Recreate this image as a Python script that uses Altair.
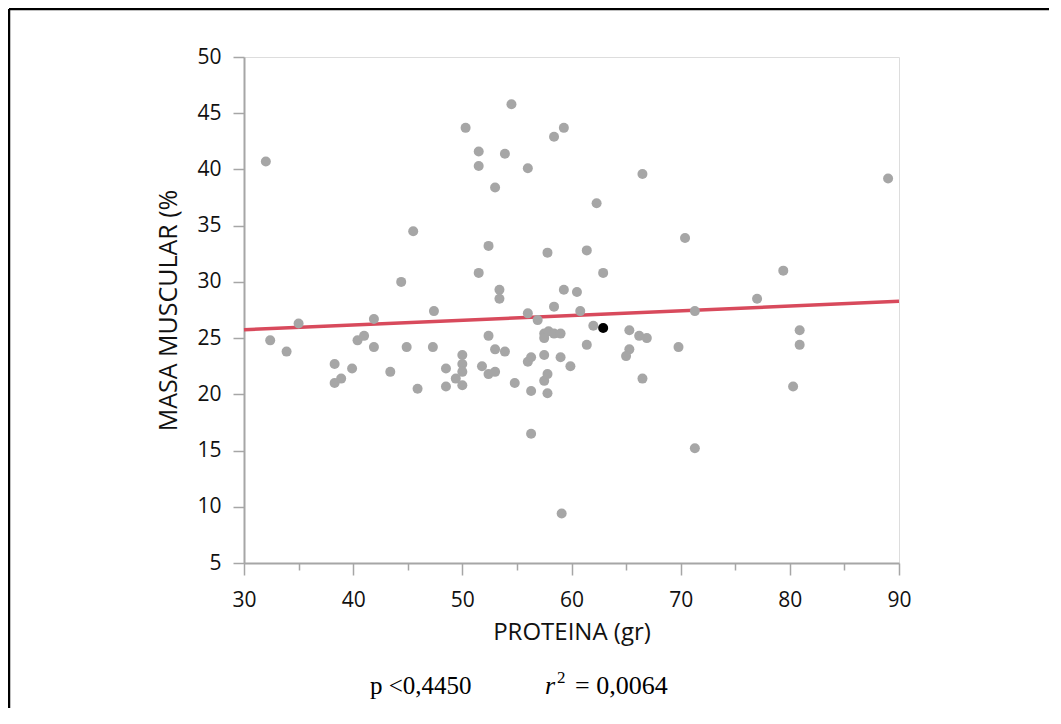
import altair as alt
import pandas as pd

# --- data ---
proteina = [32.0, 54.5, 50.3, 59.3, 58.4, 51.5, 53.9, 51.5, 56.0, 53.0,
            45.5, 52.4, 57.8, 44.4, 51.5, 53.4, 53.4, 59.3, 58.4, 47.4,
            56.0, 66.5, 89.0, 62.3, 70.4, 61.4, 62.9, 79.4, 60.5, 77.0,
            60.8, 71.3, 62.0, 65.3, 66.2, 66.9, 80.9, 80.9, 61.4, 59.9,
            65.3, 65.0, 69.8, 66.5, 80.3, 71.3, 59.1, 32.4, 33.9, 35.0,
            38.3, 38.3, 38.9, 39.9, 40.4, 41.0, 41.9, 41.9, 43.4, 44.9,
            45.9, 47.3, 48.5, 48.5, 49.4, 50.0, 50.0, 50.0, 50.0, 51.8,
            52.4, 52.4, 53.0, 53.0, 53.9, 54.8, 56.0, 56.3, 56.3, 56.3,
            56.9, 57.5, 57.9, 58.4, 59.0, 57.5, 57.5, 57.5, 57.8, 57.8,
            59.0]
masa = [40.7, 45.8, 43.7, 43.7, 42.9, 41.6, 41.4, 40.3, 40.1, 38.4,
        34.5, 33.2, 32.6, 30.0, 30.8, 29.3, 28.5, 29.3, 27.8, 27.4,
        27.2, 39.6, 39.2, 37.0, 33.9, 32.8, 30.8, 31.0, 29.1, 28.5,
        27.4, 27.4, 26.1, 25.7, 25.2, 25.0, 25.7, 24.4, 24.4, 22.5,
        24.0, 23.4, 24.2, 21.4, 20.7, 15.2, 9.4, 24.8, 23.8, 26.3,
        22.7, 21.0, 21.4, 22.3, 24.8, 25.2, 26.7, 24.2, 22.0, 24.2,
        20.5, 24.2, 22.3, 20.7, 21.4, 23.5, 22.7, 22.0, 20.8, 22.5,
        25.2, 21.8, 22.0, 24.0, 23.8, 21.0, 22.9, 23.3, 20.3, 16.5,
        26.6, 25.4, 25.6, 25.4, 25.4, 25.0, 23.5, 21.2, 21.8, 20.1,
        23.3]
highlight_x = [62.9]
highlight_y = [25.9]
fit_x = [30, 90]
fit_y = [25.75, 28.27]
x_ticks = [30, 35, 40, 45, 50, 55, 60, 65, 70, 75, 80, 85, 90]
y_ticks = [5, 10, 15, 20, 25, 30, 35, 40, 45, 50]

W, H = 655, 506
PAD_L, PAD_T, PAD_R, PAD_B = 236, 49, 150, 145

gray = "#a6a6a6"
font = "Open Sans"

pts = pd.DataFrame({"PROTEINA": proteina, "MASA": masa})
hl = pd.DataFrame({"PROTEINA": highlight_x, "MASA": highlight_y})
fit = pd.DataFrame({"PROTEINA": fit_x, "MASA": fit_y})

xscale = alt.Scale(domain=[30, 90], nice=False, zero=False)
yscale = alt.Scale(domain=[5, 50], nice=False, zero=False)

x_axis = alt.Axis(
    values=x_ticks, title="PROTEINA (gr)", grid=False, labelFlush=False,
    labelExpr="datum.value % 10 === 0 ? datum.label : ''",
    tickSize={"condition": {"test": "datum.value % 10 === 0", "value": 12}, "value": 7},
    tickColor=gray, tickWidth=1.5, domainColor=gray, domainWidth=2,
    labelFont=font, labelFontSize=21, labelColor="#111111", labelPadding=14,
    titleFont=font, titleFontSize=24, titleFontWeight="normal", titleColor="#111111",
    titlePadding=10,
)
y_axis = alt.Axis(
    values=y_ticks, title="MASA MUSCULAR (%", grid=False, labelFlush=False,
    tickSize=11, tickColor=gray, tickWidth=1.5, domainColor=gray, domainWidth=2,
    labelFont=font, labelFontSize=21, labelColor="#111111", labelPadding=12,
    titleFont=font, titleFontSize=25, titleFontWeight="normal", titleColor="#111111",
    titlePadding=15,
)

line = alt.Chart(fit).mark_line(color="#d84a5c", strokeWidth=3.5).encode(
    x=alt.X("PROTEINA:Q", scale=xscale, axis=x_axis),
    y=alt.Y("MASA:Q", scale=yscale, axis=y_axis),
)
points = alt.Chart(pts).mark_circle(size=100, color=gray, opacity=1).encode(
    x=alt.X("PROTEINA:Q", scale=xscale),
    y=alt.Y("MASA:Q", scale=yscale),
)
black = alt.Chart(hl).mark_circle(size=100, color="black", opacity=1).encode(
    x=alt.X("PROTEINA:Q", scale=xscale),
    y=alt.Y("MASA:Q", scale=yscale),
)

one = pd.DataFrame({"k": [0]})
frame_top = alt.Chart(one).mark_rule(color="black", strokeWidth=2.5).encode(
    x=alt.value(-PAD_L + 1), x2=alt.value(W + PAD_R), y=alt.value(-PAD_T + 1)
)
frame_left = alt.Chart(one).mark_rule(color="black", strokeWidth=2.5).encode(
    x=alt.value(-PAD_L + 1), y=alt.value(-PAD_T + 1), y2=alt.value(H + PAD_B)
)

serif = "Liberation Serif"
ann_p = alt.Chart(one).mark_text(font=serif, fontSize=25, align="left", baseline="alphabetic", color="black").encode(
    x=alt.value(126), y=alt.value(637), text=alt.value("p <0,4450")
)
ann_r = alt.Chart(one).mark_text(font=serif, fontSize=26, fontStyle="italic", align="left", baseline="alphabetic", color="black").encode(
    x=alt.value(301), y=alt.value(637), text=alt.value("r")
)
ann_2 = alt.Chart(one).mark_text(font=serif, fontSize=17, align="left", baseline="alphabetic", color="black").encode(
    x=alt.value(313), y=alt.value(626), text=alt.value("2")
)
ann_eq = alt.Chart(one).mark_text(font=serif, fontSize=26, align="left", baseline="alphabetic", color="black").encode(
    x=alt.value(331), y=alt.value(637), text=alt.value("= 0,0064")
)

chart = alt.layer(
    line, points, black, frame_top, frame_left, ann_p, ann_r, ann_2, ann_eq
).properties(
    width=W, height=H,
    autosize=alt.AutoSizeParams(type="none"),
    padding={"left": PAD_L, "top": PAD_T, "right": PAD_R, "bottom": PAD_B},
).configure_view(
    stroke=gray, strokeWidth=2
).configure(background="white")

chart.save("out.html", embed_options={"renderer": "svg", "actions": False})
